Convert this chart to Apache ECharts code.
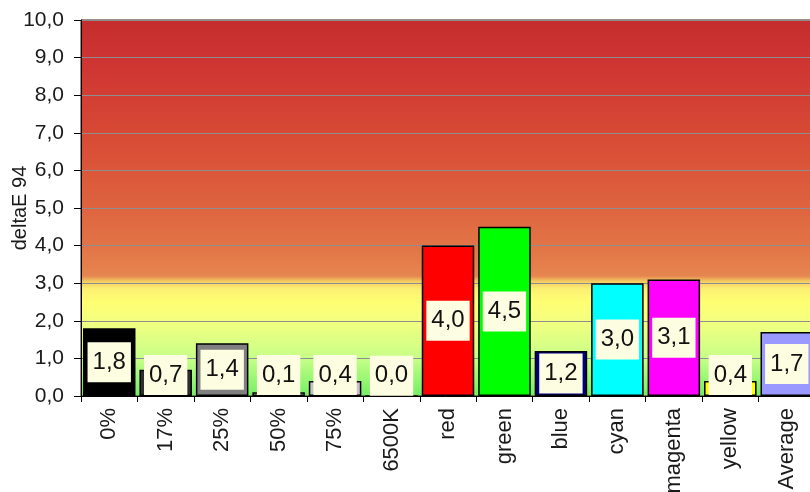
<!DOCTYPE html>
<html>
<head>
<meta charset="utf-8">
<script src="https://cdn.jsdelivr.net/npm/echarts@6/dist/echarts.min.js"></script>
<style>
  html, body { margin: 0; padding: 0; background: #ffffff; }
  #chart { width: 810px; height: 492px; }
</style>
</head>
<body>
<div id="chart"></div>
<script>
// Patch names and their measured colour error (deltaE 94)
const categories = ['0%', '17%', '25%', '50%', '75%', '6500K', 'red', 'green', 'blue', 'cyan', 'magenta', 'yellow', 'Average'];
const deltaE = [1.8, 0.7, 1.4, 0.1, 0.4, 0.0, 4.0, 4.5, 1.2, 3.0, 3.1, 0.4, 1.7];
const barColors = ['#000000', '#2e2e2e', '#808080', '#a8a8a8', '#c4c4c4', '#ffffff',
                   '#ff0000', '#00ff00', '#000080', '#00ffff', '#ff00ff', '#ffff00', '#9999ff'];
const yMin = 0;
const yMax = 10;
const yStep = 1;

// Format numbers with a decimal comma, one decimal
const fmt = v => Number(v).toFixed(1).replace('.', ',');

// Bars too short to hold the value box get their box resting on the axis
const insideThreshold = 1.1;

const chart = echarts.init(document.getElementById('chart'), null, { renderer: 'canvas' });

const data = deltaE.map((v, i) => ({
  value: v,
  itemStyle: { color: barColors[i] },
  label: v >= insideThreshold
    ? { position: 'inside' }
    : { position: 'insideBottom', distance: 1 }
}));

const fontFamily = '"Liberation Sans", Arial, sans-serif';

chart.setOption({
  animation: false,
  backgroundColor: '#ffffff',
  grid: {
    left: 81,
    top: 20,
    width: 734,
    height: 376,
    containLabel: false,
    outerBoundsMode: 'none',
    show: true,
    borderColor: '#3a1a1a',
    borderWidth: 1,
    backgroundColor: {
      type: 'linear', x: 0, y: 0, x2: 0, y2: 1,
      colorStops: [
        { offset: 0.00, color: '#c42d2d' },
        { offset: 0.10, color: '#ce3333' },
        { offset: 0.30, color: '#d74934' },
        { offset: 0.50, color: '#de643f' },
        { offset: 0.60, color: '#e27446' },
        { offset: 0.68, color: '#e6854f' },
        { offset: 0.695, color: '#f3cc62' },
        { offset: 0.715, color: '#fbf072' },
        { offset: 0.75, color: '#ffff72' },
        { offset: 0.80, color: '#f4ff80' },
        { offset: 0.90, color: '#c6ff88' },
        { offset: 1.00, color: '#72ee62' }
      ]
    }
  },
  xAxis: {
    type: 'category',
    data: categories,
    axisLine: { lineStyle: { color: '#000000', width: 1 } },
    axisTick: { show: true, length: 6, lineStyle: { color: '#000000' } },
    axisLabel: {
      rotate: 90,
      margin: 12,
      interval: 0,
      fontSize: 22,
      fontFamily: fontFamily,
      color: '#1a1a1a'
    },
    splitLine: { show: false }
  },
  yAxis: {
    type: 'value',
    min: yMin,
    max: yMax,
    interval: yStep,
    name: 'deltaE 94',
    nameLocation: 'middle',
    nameGap: 51,
    nameRotate: 90,
    nameMoveOverlap: false,
    nameTextStyle: { fontSize: 20, fontFamily: fontFamily, color: '#1a1a1a' },
    axisLine: { show: true, lineStyle: { color: '#000000', width: 1 } },
    axisTick: { show: true, length: 7, lineStyle: { color: '#000000' } },
    axisLabel: {
      formatter: fmt,
      margin: 17,
      fontSize: 21,
      fontFamily: fontFamily,
      color: '#1a1a1a'
    },
    splitLine: { show: true, lineStyle: { color: '#8e8e8e', width: 1 } }
  },
  series: [{
    type: 'bar',
    data: data,
    barCategoryGap: '7%',
    itemStyle: { borderColor: '#000000', borderWidth: 1.5 },
    label: {
      show: true,
      formatter: p => fmt(p.value),
      fontSize: 24,
      lineHeight: 26,
      fontFamily: fontFamily,
      color: '#111111',
      backgroundColor: '#fdfde2',
      padding: [7, 5, 7, 5]
    }
  }]
});
</script>
</body>
</html>
